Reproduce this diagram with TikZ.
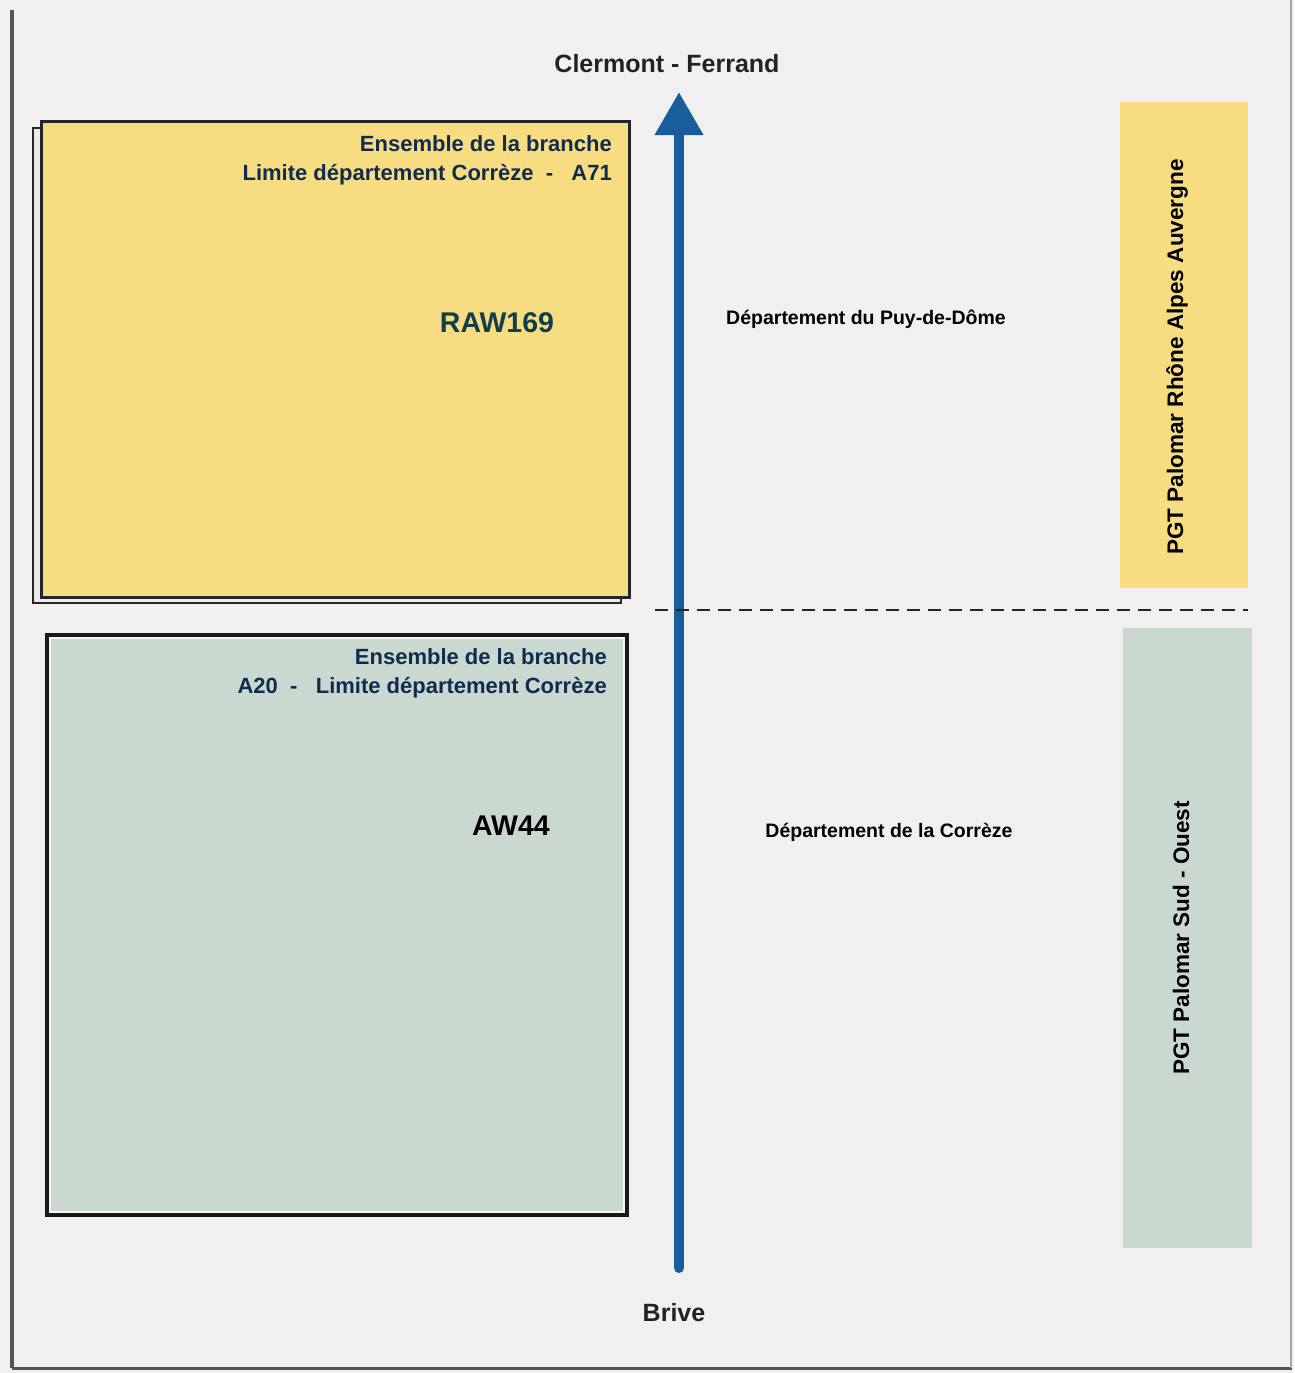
\documentclass[tikz,border=0pt]{standalone}
\usepackage{fontspec}
\setmainfont{Liberation Sans}
\usetikzlibrary{arrows.meta}
\definecolor{bgcol}{HTML}{F0F0F0}
\definecolor{yelcol}{HTML}{F7DC82}
\definecolor{grncol}{HTML}{C9D9CF}
\definecolor{navy}{HTML}{0F2C50}
\definecolor{tealtxt}{HTML}{103F4C}
\definecolor{arrblue}{HTML}{1A5D9C}
\definecolor{darktxt}{HTML}{222222}
\definecolor{framecol}{HTML}{555555}
\tikzset{
  lbl/.style={inner sep=0pt, font=\bfseries},
  boxhead/.style={lbl, text=navy, font=\fontsize{22}{26}\selectfont\bfseries, anchor=base east},
  dept/.style={lbl, text=black, font=\fontsize{19.5}{23}\selectfont\bfseries},
  city/.style={lbl, text=darktxt, font=\fontsize{25}{30}\selectfont\bfseries},
  code/.style={lbl, font=\fontsize{28.5}{34}\selectfont\bfseries},
  pgt/.style={lbl, text=black, rotate=90, font=\fontsize{22.5}{27}\selectfont\bfseries},
  boxframe/.style={draw=black!85, line width=3pt},
}
\begin{document}
\begin{tikzpicture}[x=1pt,y=-1pt]
% background and page
\fill[bgcol] (0,0) rectangle (1294,1373);
\useasboundingbox (0,0) rectangle (1294,1373);
\draw[framecol, line width=4pt] (12,10) -- (12,1368);
\draw[framecol, line width=3pt] (12,1368) -- (1292,1368);
\draw[black!35, line width=1.2pt] (1291,0) -- (1291,1368);

% yellow box with shadow
\draw[black!85, line width=2.5pt, fill=black!8] (33,128) rectangle (621,603);
\node[boxframe, fill=yelcol, minimum width=588pt, minimum height=476pt, inner sep=0pt, anchor=north west] (ybox) at (40,120) {};
\node[boxhead] (yl1) at (612,151) {Ensemble de la branche};
\node[boxhead] (yl2) at (612,180) {Limite département Corrèze\ \ -\ \ \ A71};
\node[code, text=tealtxt] (raw) at (497,323) {RAW169};

% green box
\node[draw=black!90, line width=4pt, fill=grncol, minimum width=580pt, minimum height=580pt, inner sep=0pt, anchor=north west] (gbox) at (45,633) {};
\draw[white!80!grncol, line width=1.5pt] ([shift={(5,5)}]gbox.north west) rectangle ([shift={(-5,-5)}]gbox.south east);
\node[boxhead] (gl1) at (607,664) {Ensemble de la branche};
\node[boxhead] (gl2) at (607,693) {A20\ \ -\ \ \ Limite département Corrèze};
\node[code, text=black] (aw) at (511,826) {AW44};

% right strips
\node[fill=yelcol, minimum width=128pt, minimum height=486pt, inner sep=0pt, anchor=north west] (ystrip) at (1120,102) {};
\node[fill=grncol, minimum width=129pt, minimum height=620pt, inner sep=0pt, anchor=north west] (gstrip) at (1123,628) {};
\node[pgt] (pgt1) at (1177,357) {PGT Palomar Rhône Alpes Auvergne};
\node[pgt] (pgt2) at (1181,938) {PGT Palomar Sud - Ouest};

% department labels
\node[dept] (puy) at (866,319) {Département du Puy-de-Dôme};
\node[dept] (corr) at (889,832) {Département de la Corrèze};

% cities and arrow
\node[city] (cf) at (667,64) {Clermont - Ferrand};
\node[city] (brive) at (674,1313) {Brive};
\coordinate (arrS) at (679,1268);
\coordinate (arrE) at (679,92);
\draw[arrblue, line width=10pt, line cap=round, -{Triangle[length=43pt,width=46pt]}] (arrS) -- (arrE);

% dashed boundary
\coordinate (dA) at (655,610);
\coordinate (dB) at (1248,610);
\draw[black!85, line width=2.5pt, dash pattern=on 13pt off 8pt] (dA) -- (dB);
\end{tikzpicture}
\end{document}
